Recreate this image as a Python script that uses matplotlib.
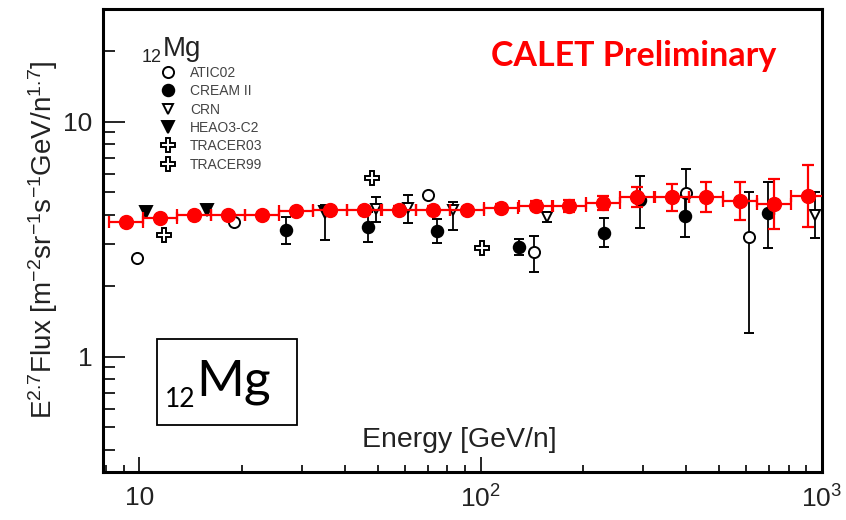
import numpy as np
import matplotlib
matplotlib.use("Agg")
import matplotlib.pyplot as plt
from matplotlib.lines import Line2D
from matplotlib.patches import Rectangle
from matplotlib.ticker import FixedLocator, LogLocator, NullFormatter

plt.rcParams["font.family"] = ["Liberation Sans", "DejaVu Sans"]
plt.rcParams["mathtext.fontset"] = "custom"
plt.rcParams["mathtext.rm"] = "Liberation Sans"
plt.rcParams["mathtext.it"] = "Liberation Sans"
plt.rcParams["mathtext.bf"] = "Liberation Sans:bold"

# ---- CALET magnesium E^2.7-weighted flux ----
calet_E = [9.14, 11.5, 14.5, 18.2, 22.9, 28.8, 36.3, 45.7, 57.5, 72.4, 91.2,
           115, 145, 182, 229, 288, 363, 457, 575, 724, 912]
calet_F = [3.74, 3.89, 4.00, 4.00, 4.00, 4.16, 4.20, 4.22, 4.22, 4.22, 4.20,
           4.28, 4.39, 4.37, 4.50, 4.77, 4.77, 4.77, 4.59, 4.46, 4.82]
calet_err_lo = [0.07, 0.08, 0.08, 0.08, 0.08, 0.08, 0.08, 0.08, 0.12, 0.12, 0.12,
                0.16, 0.17, 0.25, 0.30, 0.45, 0.59, 0.65, 0.78, 0.97, 1.26]
calet_err_hi = [0.07, 0.08, 0.08, 0.08, 0.08, 0.08, 0.08, 0.08, 0.13, 0.13, 0.13,
                0.17, 0.18, 0.26, 0.32, 0.49, 0.67, 0.76, 0.94, 1.24, 1.71]
calet_bin_dex = 0.1  # logarithmic bin width

# ---- previous measurements ----
nan = np.nan
atic_E = [9.87, 18.9, 70.3, 143, 399, 612]
atic_F = [2.63, 3.72, 4.89, 2.78, 4.96, 3.22]
atic_err_lo = [nan, nan, nan, 0.48, 0.96, 1.96]
atic_err_hi = [nan, nan, nan, 0.48, 1.30, 1.81]

cream_E = [26.9, 46.9, 74.7, 130, 230, 293, 396, 696]
cream_F = [3.45, 3.57, 3.42, 2.93, 3.36, 4.63, 3.96, 4.07]
cream_err_lo = [0.44, 0.49, 0.38, 0.22, 0.44, 1.11, 0.74, 1.17]
cream_err_hi = [0.47, 0.55, 0.43, 0.24, 0.51, 1.23, 0.90, 1.47]

crn_E = [49.4, 61.2, 83.0, 156, 953]
crn_F = [4.24, 4.29, 4.20, 3.94, 4.00]
crn_err_lo = [0.49, 0.60, 0.75, 0.20, 0.82]
crn_err_hi = [0.55, 0.58, 0.36, 0.20, 1.03]

heao_E = [10.5, 15.8, 35.0]
heao_F = [4.13, 4.20, 4.12]
heao_err_lo = [nan, nan, 0.99]
heao_err_hi = [nan, nan, 0.30]

tracer03_E = [48.0, 101]
tracer03_F = [5.73, 2.89]
tracer99_E = [11.8]
tracer99_F = [3.29]

legend_labels = ["ATIC02", "CREAM II", "CRN", "HEAO3-C2", "TRACER03", "TRACER99"]

fig = plt.figure(figsize=(8.46, 5.2), dpi=100)
ax = fig.add_axes([0.1221, 0.0923, 0.8495, 0.8913])
ax.set_xscale("log")
ax.set_yscale("log")
ax.set_xlim(7.85, 1000)
ax.set_ylim(0.3225, 30.26)

blk = dict(color="black", ecolor="black", elinewidth=1.3, capsize=3.8,
           capthick=1.3, markeredgewidth=1.4, linestyle="none", zorder=3)

# marker styles shared by data and legend
sty_atic = dict(marker="o", markersize=8, markerfacecolor="white", markeredgecolor="black")
sty_cream = dict(marker="o", markersize=8.3, markerfacecolor="black", markeredgecolor="black")
sty_crn = dict(marker="v", markersize=7.5, markerfacecolor="white", markeredgecolor="black")
sty_heao = dict(marker="v", markersize=8, markerfacecolor="black", markeredgecolor="black")
sty_tracer = dict(marker="P", markersize=10, markerfacecolor="white", markeredgecolor="black")

ax.errorbar(atic_E, atic_F, yerr=[atic_err_lo, atic_err_hi], **sty_atic, **blk)
ax.errorbar(cream_E, cream_F, yerr=[cream_err_lo, cream_err_hi], **sty_cream, **blk)
ax.errorbar(crn_E, crn_F, yerr=[crn_err_lo, crn_err_hi], **sty_crn, **blk)
ax.errorbar(heao_E, heao_F, yerr=[heao_err_lo, heao_err_hi], **sty_heao, **blk)
ax.errorbar(tracer03_E, tracer03_F, **sty_tracer, **blk)
ax.errorbar(tracer99_E, tracer99_F, **sty_tracer, **blk)

# CALET points with bin-width horizontal bars
cE = np.array(calet_E)
half = 10 ** (calet_bin_dex / 2)
xerr = [cE - cE / half, cE * half - cE]
ax.errorbar(cE, calet_F, xerr=xerr, yerr=[calet_err_lo, calet_err_hi],
            marker="o", markersize=10, color="#ff0000", ecolor="#ff0000",
            elinewidth=1.6, capsize=4, capthick=1.6, linestyle="none", zorder=5)

# axes styling
for s in ax.spines.values():
    s.set_linewidth(2.2)
ax.xaxis.set_major_locator(FixedLocator([10, 100, 1000]))
ax.xaxis.set_minor_locator(LogLocator(base=10, subs=np.arange(2, 10)))
ax.xaxis.set_minor_formatter(NullFormatter())
ax.set_xticks([10, 100, 1000], ["10", "$10^{2}$", "$10^{3}$"])
ax.yaxis.set_major_locator(FixedLocator([1, 10]))
ax.yaxis.set_minor_locator(LogLocator(base=10, subs=np.arange(2, 10)))
ax.yaxis.set_minor_formatter(NullFormatter())
ax.set_yticks([1, 10], ["1", "10"])
ax.tick_params(axis="x", which="major", direction="in", length=10.8, width=1.2,
               labelsize=19, pad=10)
ax.tick_params(axis="x", which="minor", direction="in", length=5, width=1.2)
ax.tick_params(axis="y", which="major", direction="in", length=16, width=1.2,
               labelsize=19, pad=8)
ax.tick_params(axis="y", which="minor", direction="in", length=8.5, width=1.2)
for lab in ax.get_xticklabels() + ax.get_yticklabels():
    lab.set_color("#222222")

ax.set_xlabel("Energy [GeV/n]", fontsize=20.5, color="#222222")
ax.xaxis.set_label_coords(0.495, 0.069)
ax.xaxis.label.set_va("center")
ax.set_ylabel(r"E$^{2.7}$Flux [m$^{-2}$sr$^{-1}$s$^{-1}$GeV/n$^{1.7}$]",
              fontsize=20, color="#222222")
ax.yaxis.set_label_coords(-0.084, 0.5)
ax.yaxis.label.set_va("center")

# legend
handles = [Line2D([], [], linestyle="none", markeredgewidth=1.4, **s)
           for s in (sty_atic, sty_cream, sty_crn, sty_heao, sty_tracer, sty_tracer)]
leg = ax.legend(handles, legend_labels, loc="upper left",
                bbox_to_anchor=(0.0803, 0.876), frameon=False, fontsize=10,
                labelspacing=0.31, handlelength=1.0, handletextpad=1.08,
                borderpad=0, borderaxespad=0)
for t in leg.get_texts():
    t.set_color("#444444")
ax.text((142 - 103.3) / 718.7, (472 - 62) / 463.5, "12",
        transform=ax.transAxes, fontsize=13, ha="left", va="baseline",
        color="#222222")
ax.text((163 - 103.3) / 718.7, (472 - 56) / 463.5, "Mg",
        transform=ax.transAxes, fontsize=20, ha="left", va="baseline",
        color="#222222")

# title block
ax.text(0.7377, 0.8975, "CALET Preliminary", transform=ax.transAxes,
        fontsize=24.5, fontweight="bold", color="#ff0000", ha="center",
        va="center", family=["Lato", "DejaVu Sans"])

# element label box
ax.add_patch(Rectangle((0.0754, 0.1014), 0.2695 - 0.0754, 0.2870 - 0.1014,
                       transform=ax.transAxes, fill=False, edgecolor="black",
                       linewidth=1.3, zorder=6))
ax.text((165 - 103.3) / 718.7, (472 - 407) / 463.5, "12",
        transform=ax.transAxes, fontsize=19, ha="left", va="baseline",
        family=["Lato", "DejaVu Sans"], zorder=7)
ax.text((196 - 103.3) / 718.7, (472 - 395) / 463.5, "Mg",
        transform=ax.transAxes, fontsize=37, ha="left", va="baseline",
        family=["Lato", "DejaVu Sans"], zorder=7)

fig.savefig("out.png", dpi=100)
